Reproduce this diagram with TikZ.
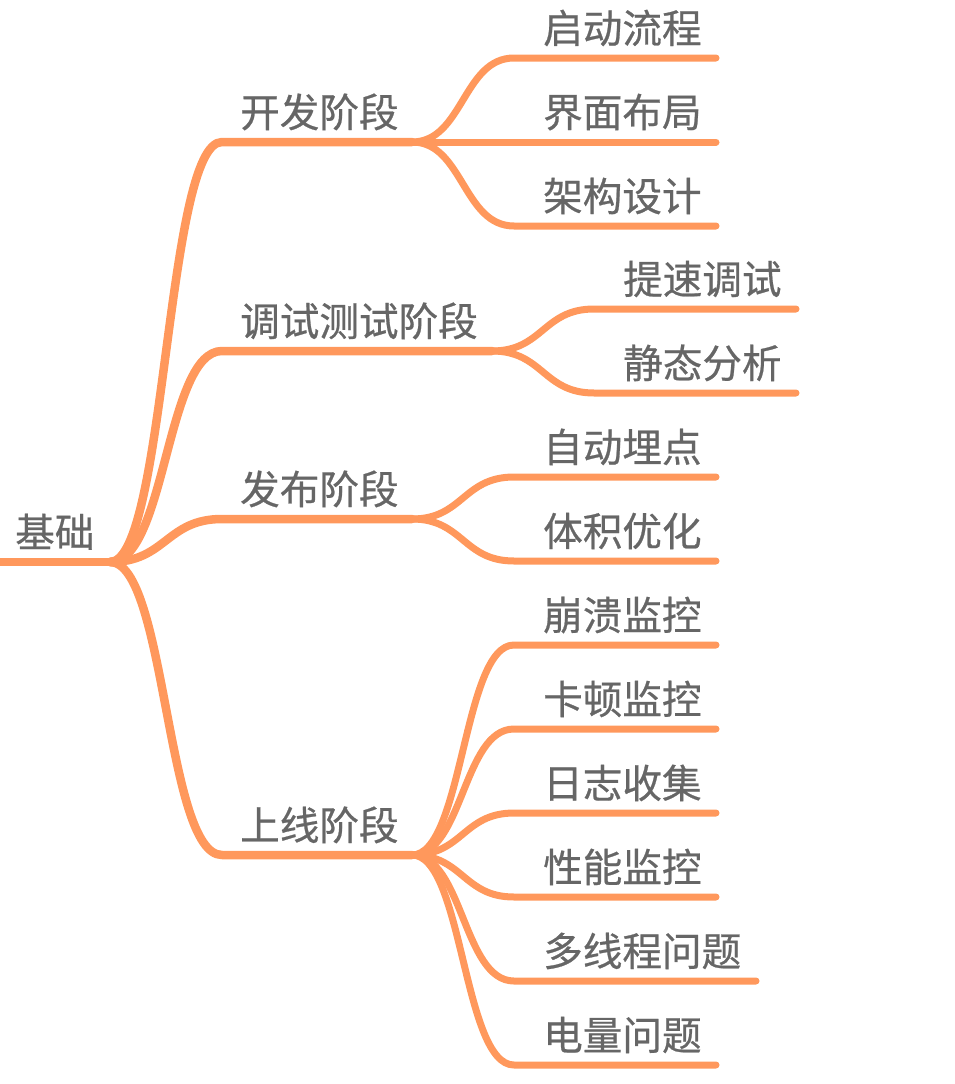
\documentclass[tikz,border=0pt]{standalone}
\usepackage{fontspec}
\newfontfamily\cjk[AutoFakeBold=0.6]{Noto Sans CJK SC}
\definecolor{br}{RGB}{255,152,92}
\definecolor{tx}{RGB}{102,102,102}
\begin{document}
\begin{tikzpicture}[x=1pt,y=-1pt,
  lbl/.style={font=\cjk\bfseries\fontsize{39.6}{40}\selectfont, text=tx, inner sep=0pt, anchor=base west},
  mainln/.style={draw=br, line width=8.5pt, line cap=round, line join=round},
  subln/.style={draw=br, line width=7pt, line cap=round, line join=round}]
\useasboundingbox (0,0) rectangle (954,1084);
% root
\coordinate (r0) at (-10,562);
\coordinate (r) at (110,562);
\draw[mainln] (r0) -- (r);
\node[lbl] (t0) at (15,547) {基础};
% level 1
\coordinate (a1) at (222,142); \coordinate (a2) at (412,142);
\coordinate (b1) at (222,351); \coordinate (b2) at (492,351);
\coordinate (c1) at (222,519); \coordinate (c2) at (412,519);
\coordinate (d1) at (222,855); \coordinate (d2) at (412,855);
\foreach \s/\e in {a1/a2,b1/b2,c1/c2,d1/d2}
  \draw[mainln] (r) .. controls +(56,0) and +(-56,0) .. (\s) -- (\e);
\node[lbl] (ta) at (240,127) {开发阶段};
\node[lbl] (tb) at (240,336) {调试测试阶段};
\node[lbl] (tc) at (240,504) {发布阶段};
\node[lbl] (td) at (240,840) {上线阶段};
% level 2 under a
\foreach \n/\y/\t in {a/58/启动流程, b/142/界面布局, c/226/架构设计}{
  \coordinate (aa\n) at (514,\y); \coordinate (ae\n) at (716,\y);
  \draw[subln] (a2) .. controls +(51,0) and +(-51,0) .. (aa\n) -- (ae\n);
  \node[lbl] (ta\n) at (543,\y-15) {\t};
}
% level 2 under b
\foreach \n/\y/\t in {a/309/提速调试, b/393/静态分析}{
  \coordinate (ba\n) at (594,\y); \coordinate (be\n) at (796,\y);
  \draw[subln] (b2) .. controls +(51,0) and +(-51,0) .. (ba\n) -- (be\n);
  \node[lbl] (tb\n) at (623,\y-15) {\t};
}
% level 2 under c
\foreach \n/\y/\t in {a/477/自动埋点, b/561/体积优化}{
  \coordinate (ca\n) at (514,\y); \coordinate (ce\n) at (716,\y);
  \draw[subln] (c2) .. controls +(51,0) and +(-51,0) .. (ca\n) -- (ce\n);
  \node[lbl] (tc\n) at (543,\y-15) {\t};
}
% level 2 under d
\foreach \n/\y/\x/\t in {a/645/716/崩溃监控, b/729/716/卡顿监控, c/813/716/日志收集, d/897/716/性能监控, e/981/756/多线程问题, f/1065/716/电量问题}{
  \coordinate (da\n) at (514,\y); \coordinate (de\n) at (\x,\y);
  \draw[subln] (d2) .. controls +(51,0) and +(-51,0) .. (da\n) -- (de\n);
  \node[lbl] (td\n) at (543,\y-15) {\t};
}
\end{tikzpicture}
\end{document}
